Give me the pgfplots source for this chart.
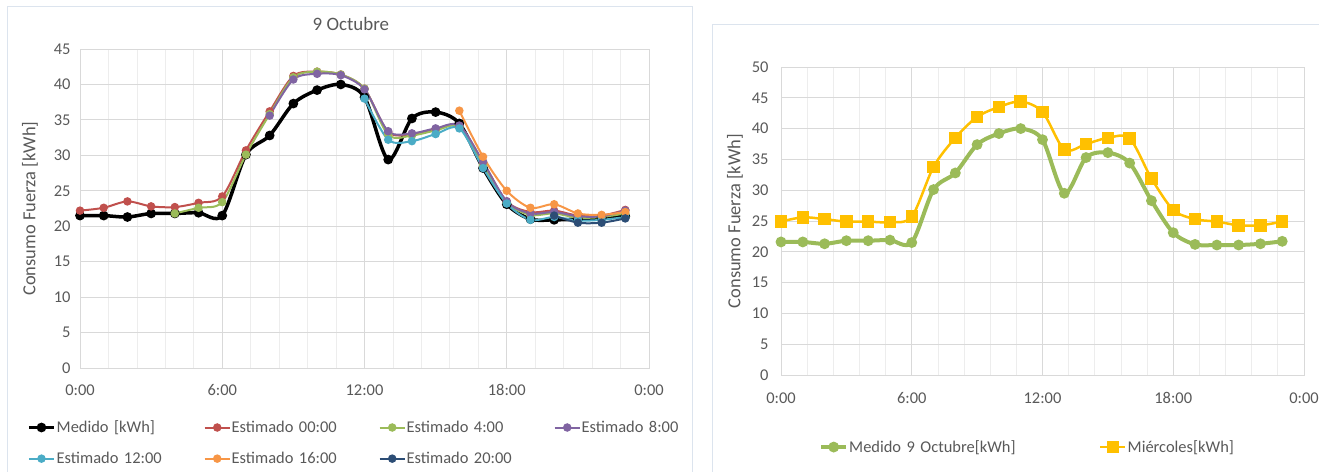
\documentclass[border=0pt]{standalone}
\usepackage{pgfplots}
\pgfplotsset{compat=1.18}
\usepackage{fontspec}
\setmainfont{Carlito}
\definecolor{cRed}{HTML}{C0504D}
\definecolor{cGreen}{HTML}{9BBB59}
\definecolor{cPurple}{HTML}{8064A2}
\definecolor{cCyan}{HTML}{4BACC6}
\definecolor{cOrange}{HTML}{F79646}
\definecolor{cNavy}{HTML}{2C4D75}
\definecolor{cYellow}{HTML}{FFC000}
\definecolor{txt}{HTML}{595959}
\definecolor{gridc}{HTML}{D9D9D9}
\definecolor{gridm}{HTML}{EDEDED}
\definecolor{frame}{HTML}{DCE4EE}
\newcommand\tfont{\fontsize{16.5}{19}\selectfont}
\newcommand\lfont{\fontsize{18.5}{22}\selectfont}
\pgfplotsset{
  base/.style={
    scale only axis,
    xmin=0, xmax=24,
    xtick={0,6,12,18,24},
    xticklabels={0:00,6:00,12:00,18:00,0:00},
    minor x tick num=4,
    xmajorgrids, xminorgrids, ymajorgrids,
    major grid style={gridc, line width=0.8bp},
    minor grid style={gridm, line width=0.8bp},
    axis line style={gridc, line width=0.8bp},
    major tick length=0pt, minor tick length=0pt,
    tick label style={font=\tfont, text=txt},
    /pgf/number format/assume math mode=true,
    ylabel style={font=\lfont, text=txt, rotate=0},
    legend style={draw=none, fill=none, font=\tfont, text=txt,
      inner sep=0pt, cells={anchor=west},
      /tikz/every odd column/.style={column sep=0pt},
      /tikz/every even column/.style={column sep=0pt}},
    legend cell align=left,
    legend image code/.code={\draw[mark repeat=2,mark phase=2,#1] plot coordinates {(0bp,0bp)(12.5bp,0bp)(25bp,0bp)};},
    clip=false,
  },
}
\begin{document}
\begin{tikzpicture}
\useasboundingbox (0,0) rectangle (1319bp,472bp);
\draw[frame, line width=1bp] (7bp,-2bp) -- (7bp,465bp) -- (692bp,465bp) -- (692bp,-2bp);
\draw[frame, line width=1bp] (712bp,-2bp) -- (712bp,447bp) -- (1325bp,447bp);
% ---------- Left panel ----------
\begin{axis}[base,
  at={(80bp,104bp)}, anchor=south west,
  width=569bp, height=319bp,
  ymin=0, ymax=45, ytick distance=5,
  xticklabel style={yshift=-13bp},
  yticklabel style={xshift=-6bp},
  ylabel={Consumo Fuerza [kWh]},
  ylabel style={at={(axis description cs:-0.088,0.5)}, anchor=center},
  title={9 Octubre},
  title style={font=\fontsize{19}{22}\selectfont, text=txt, at={(axis description cs:0.476,1)}, anchor=center, yshift=19bp},
  legend columns=4,
  legend style={at={(axis description cs:-0.0931,-0.235)}, anchor=west,
    nodes={text width=146bp, inner xsep=1bp, inner ysep=4bp},
    /tikz/row sep=10bp},
]
\addplot[black, line width=3.5bp, smooth, mark=*, mark size=3bp] coordinates {
(0,21.5)(1,21.5)(2,21.3)(3,21.8)(4,21.8)(5,21.9)(6,21.5)(7,30.1)(8,32.8)(9,37.3)(10,39.2)(11,40.0)
(12,38.2)(13,29.4)(14,35.2)(15,36.1)(16,34.5)(17,28.2)(18,23.1)(19,21.0)(20,20.9)(21,21.0)(22,21.2)(23,21.4)};
\addlegendentry{Medido [kWh]}
\addplot[cRed, line width=2bp, smooth, mark=*, mark size=3.2bp] coordinates {
(0,22.2)(1,22.6)(2,23.5)(3,22.8)(4,22.7)(5,23.3)(6,24.2)(7,30.7)(8,36.2)(9,41.2)(10,41.8)(11,41.4)
(12,39.4)(13,33.3)(14,33.0)(15,33.7)(16,34.1)(17,29.0)(18,23.5)(19,22.0)(20,22.2)(21,21.5)(22,21.5)(23,22.3)};
\addlegendentry{Estimado 00:00}
\addplot[cGreen, line width=2bp, smooth, mark=*, mark size=3.2bp] coordinates {
(4,21.8)(5,22.6)(6,23.4)(7,30.1)(8,35.8)(9,41.0)(10,41.8)(11,41.4)
(12,39.4)(13,32.9)(14,32.8)(15,33.5)(16,34.0)(17,28.6)(18,23.3)(19,21.6)(20,21.8)(21,21.2)(22,21.3)(23,21.8)};
\addlegendentry{Estimado 4:00}
\addplot[cPurple, line width=2bp, smooth, mark=*, mark size=3.2bp] coordinates {
(8,35.6)(9,40.7)(10,41.5)(11,41.3)
(12,39.3)(13,33.4)(14,33.1)(15,33.8)(16,34.2)(17,29.1)(18,23.5)(19,21.8)(20,22.0)(21,21.4)(22,21.4)(23,22.2)};
\addlegendentry{Estimado 8:00}
\addplot[cCyan, line width=2bp, smooth, mark=*, mark size=3.2bp] coordinates {
(12,38.0)(13,32.2)(14,32.0)(15,33.0)(16,33.8)(17,28.2)(18,23.2)(19,20.9)(20,21.3)(21,20.8)(22,20.9)(23,21.3)};
\addlegendentry{Estimado 12:00}
\addplot[cOrange, line width=2bp, smooth, mark=*, mark size=3.2bp] coordinates {
(16,36.3)(17,29.8)(18,25.0)(19,22.6)(20,23.1)(21,21.8)(22,21.6)(23,22.0)};
\addlegendentry{Estimado 16:00}
\addplot[cNavy, line width=2bp, smooth, mark=*, mark size=3.2bp] coordinates {
(20,21.5)(21,20.5)(22,20.5)(23,21.1)};
\addlegendentry{Estimado 20:00}
\end{axis}
% ---------- Right panel ----------
\begin{axis}[base,
  at={(781bp,97bp)}, anchor=south west,
  width=523bp, height=308bp,
  ymin=0, ymax=50, ytick distance=5,
  xticklabel style={yshift=-14bp},
  yticklabel style={xshift=-9bp},
  ylabel={Consumo Fuerza [kWh]},
  ylabel style={at={(axis description cs:-0.088,0.5)}, anchor=center},
  legend columns=2,
  legend style={at={(axis description cs:0.0727,-0.234)}, anchor=west,
    nodes={text width=249bp, inner xsep=1bp, inner ysep=4bp}},
]
\addplot[cGreen, line width=4bp, smooth, mark=*, mark size=3.3bp] coordinates {
(0,21.6)(1,21.6)(2,21.3)(3,21.8)(4,21.8)(5,21.9)(6,21.5)(7,30.1)(8,32.8)(9,37.4)(10,39.2)(11,40.0)
(12,38.2)(13,29.5)(14,35.3)(15,36.1)(16,34.4)(17,28.3)(18,23.1)(19,21.2)(20,21.1)(21,21.1)(22,21.3)(23,21.7)};
\addlegendentry{Medido 9 Octubre[kWh]}
\addplot[cYellow, line width=2.5bp, smooth, mark=square*, mark size=5bp] coordinates {
(0,24.9)(1,25.6)(2,25.3)(3,24.9)(4,24.9)(5,24.8)(6,25.7)(7,33.8)(8,38.5)(9,41.9)(10,43.5)(11,44.4)
(12,42.7)(13,36.6)(14,37.5)(15,38.5)(16,38.4)(17,31.9)(18,26.8)(19,25.3)(20,24.9)(21,24.3)(22,24.3)(23,24.9)};
\addlegendentry{Miércoles[kWh]}
\end{axis}
\end{tikzpicture}
\end{document}
